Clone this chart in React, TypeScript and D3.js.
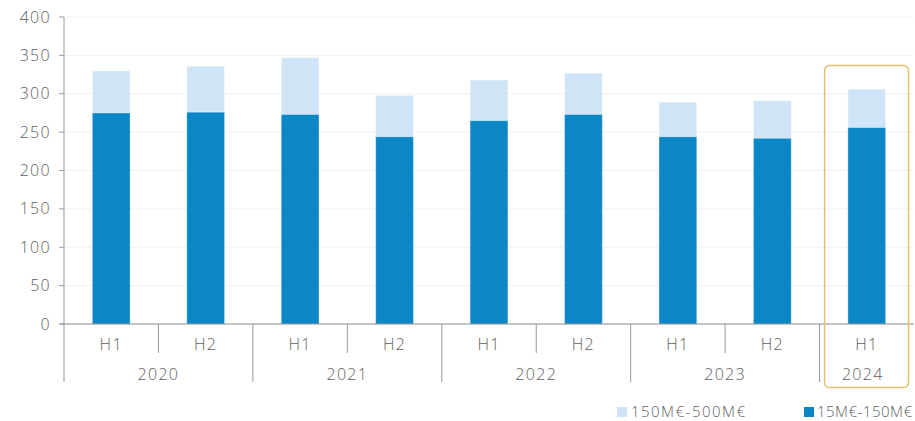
import React from "react";
import * as d3 from "d3";

const periods = ["H1", "H2", "H1", "H2", "H1", "H2", "H1", "H2", "H1"];
const years = ["2020", "2021", "2022", "2023", "2024"];
const yearSpans = [2, 2, 2, 2, 1];
const lowSeries = [275, 276, 273, 244, 265, 273, 244, 242, 256];
const highSeries = [55, 60, 74, 54, 53, 54, 45, 49, 50];
const seriesNames = ["150M€-500M€", "15M€-150M€"];
const yTicks = [0, 50, 100, 150, 200, 250, 300, 350, 400];

const W = 915, H = 421;
const left = 64, right = 914, top = 17, bottom = 324;
const DARK = "#0b87c7", LIGHT = "#cfe5f7";
const TXT = "#5e5e5e";
const FONT = "'Open Sans', sans-serif";
const FS = 16;
const LS = 1.3;
const FW = 300;

export default function App() {
  const idx = periods.map((_, i) => String(i));
  const x = d3.scaleBand().domain(idx).range([left, right]).paddingInner(0.6).paddingOuter(0.3);
  const band = d3.scaleBand().domain(idx).range([left, right]).padding(0);
  const y = d3.scaleLinear().domain([0, 400]).range([bottom, top]);

  const yearStarts: number[] = [];
  let acc = 0;
  yearSpans.forEach((s) => { yearStarts.push(acc); acc += s; });

  const lastX = band(String(8))!;
  const tp = { fontSize: FS, fill: TXT, letterSpacing: LS, fontWeight: FW };
  const lp = { fontSize: 15, fill: TXT, fontWeight: FW, lengthAdjust: "spacing" };
  return (
    <svg width={W} height={H} style={{ position: "absolute", left: 0, top: 0, fontFamily: FONT }}>
      {yTicks.map((t) => (
        <g key={t}>
          {t > 0 && <line x1={left} x2={right} y1={y(t)} y2={y(t)} stroke="#f0f0f0" strokeWidth={1} />}
          <line x1={left - 5} x2={left} y1={y(t)} y2={y(t)} stroke="#999" />
          <text x={51} y={y(t)} dy="0.35em" textAnchor="end" {...tp}>{t}</text>
        </g>
      ))}
      <line x1={left} x2={left} y1={top} y2={bottom} stroke="#999" />
      {idx.map((k, i) => {
        const bx = x(k)!, bw = x.bandwidth();
        const lo = lowSeries[i], hi = highSeries[i];
        return (
          <g key={k}>
            <rect x={bx} width={bw} y={y(lo + hi)} height={y(lo) - y(lo + hi)} fill={LIGHT} stroke="rgba(255,255,255,0.5)" strokeWidth={1} />
            <rect x={bx} width={bw} y={y(lo)} height={y(0) - y(lo)} fill={DARK} stroke="rgba(255,255,255,0.35)" strokeWidth={1} />
          </g>
        );
      })}
      <line x1={left - 4} x2={right} y1={bottom} y2={bottom} stroke="#888" />
      {idx.map((k, i) => {
        const bx0 = band(k)!;
        const cx = bx0 + band.bandwidth() / 2;
        return (
          <g key={"p" + k}>
            <text x={cx} y={344} dy="0.35em" textAnchor="middle" {...tp}>{periods[i]}</text>
            {i % 2 === 1 && <line x1={bx0} x2={bx0} y1={bottom} y2={353} stroke="#999" />}
          </g>
        );
      })}
      {years.map((yr, j) => {
        const s = yearStarts[j];
        const x0 = band(String(s))!;
        const x1 = s + yearSpans[j] >= periods.length ? right : band(String(s + yearSpans[j]))!;
        return (
          <g key={yr}>
            <line x1={x0} x2={x0} y1={bottom} y2={382} stroke="#999" />
            <text x={(x0 + x1) / 2 + (j === 4 ? -4 : 0)} y={374} dy="0.35em" textAnchor="middle" {...tp}>{yr}</text>
          </g>
        );
      })}
      <rect x={lastX + 5} y={65.5} width={84} height={322} rx={5} fill="none" stroke="#e6c070" strokeWidth={1.5} />
      <rect x={617} y={407} width={10} height={10} fill={LIGHT} />
      <text x={631} y={411.5} dy="0.35em" textLength={114} {...lp}>{seriesNames[0]}</text>
      <rect x={804} y={407} width={10} height={10} fill={DARK} />
      <text x={817} y={411.5} dy="0.35em" textLength={95} {...lp}>{seriesNames[1]}</text>
    </svg>
  );
}
